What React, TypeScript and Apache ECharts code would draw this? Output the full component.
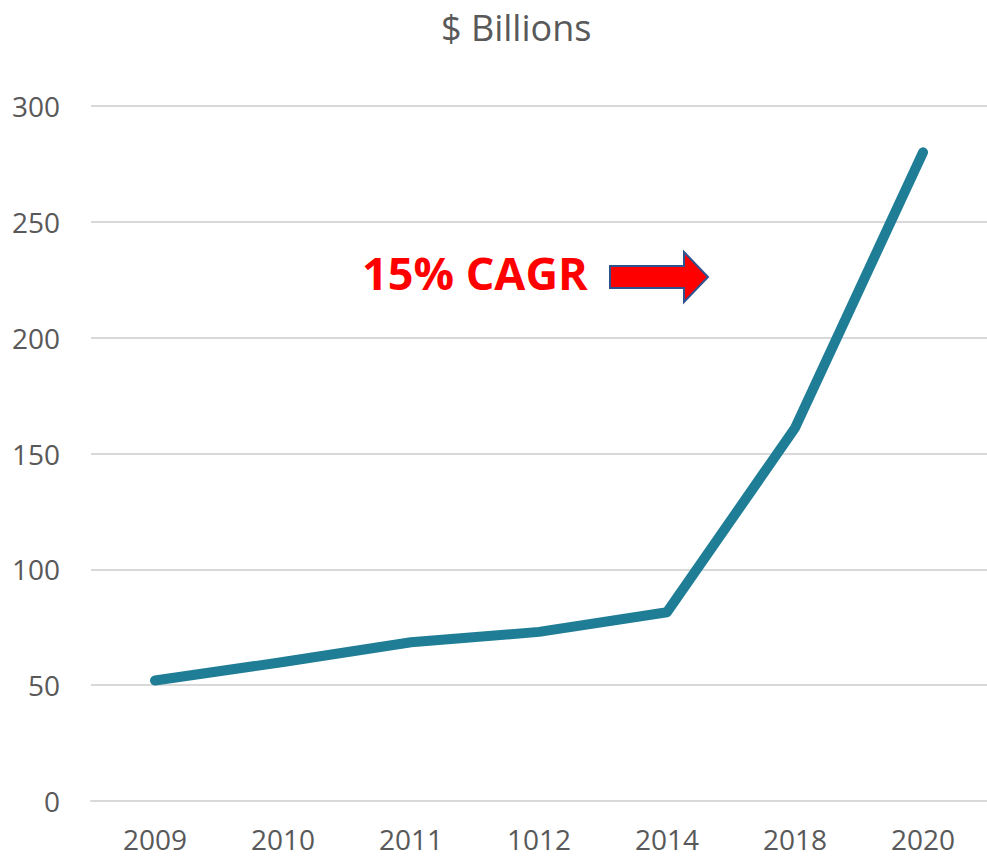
import React, { useEffect, useRef } from "react";
import * as echarts from "echarts";

const categories = ["2009", "2010", "2011", "1012", "2014", "2018", "2020"];
const values = [52, 60, 68.5, 73, 81.5, 161, 280];
const yTicks = [0, 50, 100, 150, 200, 250, 300];
const titleText = "$ Billions";
const annotationText = "15% CAGR";

export default function App() {
  const ref = useRef<HTMLDivElement>(null);
  useEffect(() => {
    document.body.style.margin = "0";
    const chart = echarts.init(ref.current!, undefined, { renderer: "svg" });
    chart.setOption({
      animation: false,
      backgroundColor: "#ffffff",
      title: {
        text: titleText,
        left: 436,
        top: 4,
        textStyle: {
          fontFamily: "Open Sans",
          fontSize: 36,
          fontWeight: "normal",
          color: "#595959",
        },
      },
      grid: { left: 91, right: -9, top: 106, bottom: 57, containLabel: false },
      xAxis: {
        type: "category",
        data: categories,
        boundaryGap: true,
        axisLine: { show: true, lineStyle: { color: "#d9d9d9", width: 2 } },
        axisTick: { show: false },
        axisLabel: {
          margin: 24,
          fontFamily: "Open Sans",
          fontSize: 28,
          color: "#595959",
        },
      },
      yAxis: {
        type: "value",
        min: yTicks[0],
        max: yTicks[yTicks.length - 1],
        interval: 50,
        axisLine: { show: false },
        axisTick: { show: false },
        splitLine: { lineStyle: { color: "#d9d9d9", width: 2 } },
        axisLabel: {
          margin: 31,
          fontFamily: "Open Sans",
          fontSize: 28,
          color: "#595959",
        },
      },
      series: [
        {
          type: "line",
          data: values,
          symbol: "none",
          lineStyle: { color: "#1f7d96", width: 10, cap: "round", join: "round" },
        },
      ],
      graphic: [
        {
          type: "text",
          left: 362,
          top: 250,
          style: {
            text: annotationText,
            fontFamily: "Open Sans",
            fontWeight: "bold",
            fontSize: 45,
            fill: "#ff0000",
          },
        },
        {
          type: "polygon",
          shape: {
            points: [
              [610, 266],
              [684, 266],
              [684, 252],
              [708, 277],
              [684, 302],
              [684, 288],
              [610, 288],
            ],
          },
          style: { fill: "#ff0000", stroke: "#2f528f", lineWidth: 2 },
        },
      ],
    });
    return () => chart.dispose();
  }, []);
  return <div ref={ref} style={{ width: 987, height: 858 }} />;
}
